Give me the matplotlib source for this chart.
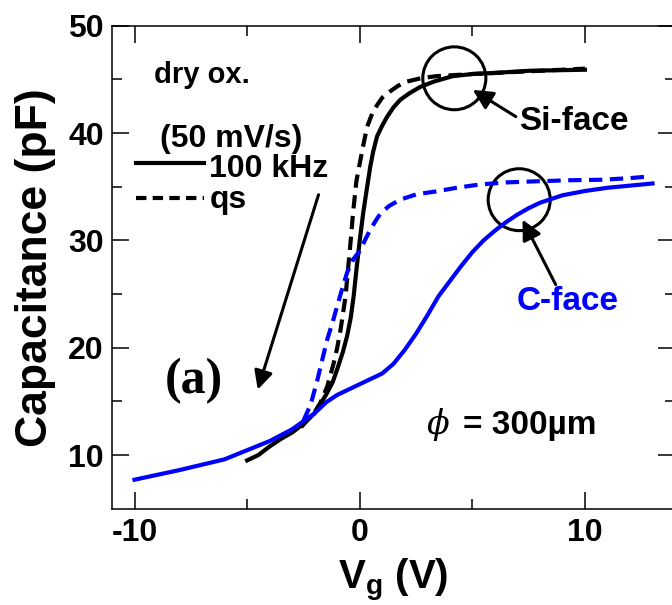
import numpy as np
import matplotlib.pyplot as plt
from matplotlib.patches import Ellipse

plt.rcParams['font.family'] = ['Liberation Sans', 'DejaVu Sans']
plt.rcParams['font.weight'] = 'bold'
plt.rcParams['axes.labelweight'] = 'bold'
plt.rcParams['axes.unicode_minus'] = False
plt.rcParams['mathtext.fontset'] = 'custom'
plt.rcParams['mathtext.bf'] = 'Liberation Sans:bold'
plt.rcParams['mathtext.rm'] = 'Liberation Sans:bold'

# C-V curves, gate voltage (V) vs capacitance (pF)
si_hf_v = [-5.0, -4.5, -4.0, -3.5, -3.0, -2.5, -2.0, -1.5, -1.2, -1.0,
           -0.75, -0.56, -0.4, -0.27, -0.15, 0.0, 0.15, 0.3, 0.47, 0.6,
           0.77, 1.0, 1.21, 1.5, 1.8, 2.2, 2.69, 3.3, 4.13, 5.0,
           6.0, 7.5, 10.0]
si_hf_c = [9.5, 10.0, 10.8, 11.5, 12.1, 12.9, 13.9, 15.6, 16.8, 18.0,
           19.6, 21.1, 22.8, 24.8, 27.2, 30.0, 32.5, 34.6, 36.9, 38.3,
           39.7, 40.7, 41.5, 42.4, 43.1, 43.7, 44.3, 44.8, 45.3, 45.5,
           45.6, 45.8, 45.9]

si_qs_v = [-2.6, -2.0, -1.74, -1.44, -1.15, -1.0, -0.85, -0.63, -0.49, -0.41,
           -0.3, -0.15, 0.03, 0.2, 0.33, 0.55, 0.77, 1.0, 1.36, 1.7,
           2.1, 2.7, 3.4, 5.0, 7.0, 10.0]
si_qs_c = [12.6, 14.0, 14.9, 16.4, 18.6, 20.0, 21.7, 24.8, 28.0, 29.8,
           32.5, 35.5, 37.5, 39.3, 40.6, 41.8, 42.6, 43.3, 43.9, 44.4,
           44.8, 45.1, 45.3, 45.5, 45.7, 46.0]

c_hf_v = [-10.0, -8.0, -6.0, -4.0, -3.0, -2.0, -1.5, -1.0, -0.5, 0.0,
          0.5, 1.0, 1.5, 2.0, 2.5, 3.0, 3.5, 4.0, 4.5, 5.0,
          5.5, 6.0, 6.5, 7.0, 7.5, 8.0, 9.0, 10.0, 11.0, 12.0, 13.0]
c_hf_c = [7.7, 8.6, 9.6, 11.3, 12.4, 13.9, 14.9, 15.6, 16.1, 16.6,
          17.1, 17.6, 18.5, 19.8, 21.3, 23.0, 24.8, 26.2, 27.6, 28.9,
          30.0, 30.9, 31.7, 32.4, 33.0, 33.5, 34.2, 34.6, 34.9, 35.1, 35.3]

c_qs_v = [-2.5, -2.18, -1.88, -1.65, -1.44, -1.2, -1.0, -0.75, -0.56, -0.3,
          0.03, 0.25, 0.47, 0.7, 0.92, 1.3, 1.8, 2.54, 3.39, 4.3,
          5.31, 6.5, 7.82, 9.3, 10.77, 12.0, 12.83]
c_qs_c = [13.2, 14.7, 17.0, 19.0, 20.8, 22.4, 23.9, 25.7, 27.0, 28.2,
          29.1, 30.1, 31.0, 31.8, 32.5, 33.2, 33.8, 34.3, 34.56, 34.9,
          35.2, 35.4, 35.5, 35.6, 35.65, 35.8, 35.95]

blue = '#0000ff'
lw = 3.0
dash = (3.2, 1.8)

fig = plt.figure(figsize=(6.72, 6.05), dpi=100)
ax = fig.add_axes([0.1667, 0.1592, 0.8378, 0.7983])

ax.plot(si_hf_v, si_hf_c, color='black', lw=lw)
ax.plot(si_qs_v, si_qs_c, color='black', lw=lw, dashes=dash)
ax.plot(c_hf_v, c_hf_c, color=blue, lw=lw)
ax.plot(c_qs_v, c_qs_c, color=blue, lw=lw, dashes=dash)

ax.set_xlim(-11, 14)
ax.set_ylim(5, 50)
ax.set_xticks([-10, 0, 10])
ax.set_xticks([-5, 5], minor=True)
ax.set_yticks([10, 20, 30, 40, 50])
ax.set_yticks([15, 25, 35, 45], minor=True)
ax.tick_params(which='both', direction='in', top=True, right=True, width=1.1,
               labelsize=23)
ax.tick_params(which='major', length=12)
ax.tick_params(which='minor', length=7.5)
ax.tick_params(axis='x', pad=7)
ax.tick_params(axis='y', pad=6)
for sp in ax.spines.values():
    sp.set_linewidth(1.1)

ax.set_xlabel(r'$\mathbf{V_g}$ (V)', fontsize=29, labelpad=6)
ax.set_ylabel('Capacitance (pF)', fontsize=32, labelpad=9)

# legend drawn by hand
ax.text(-9.13, 44.64, 'dry ox.', fontsize=21, va='baseline')
ax.text(-8.89, 38.74, '(50 mV/s)', fontsize=23, va='baseline')
ax.plot([-9.92, -6.92], [37.23, 37.23], color='black', lw=3)
ax.text(-6.68, 35.95, '100 kHz', fontsize=23, va='baseline')
ax.plot([-9.92, -6.92], [33.97, 33.97], color='black', lw=3, dashes=(2.5, 1.5))
ax.text(-6.68, 33.04, 'qs', fontsize=23, va='baseline')

ax.annotate('', xy=(-4.53, 16.1), xytext=(-1.83, 34.25),
            arrowprops=dict(arrowstyle='-|>', color='black', lw=2.2,
                            mutation_scale=28, shrinkA=0, shrinkB=0))
ax.text(-7.36, 15.8, '(a)', fontsize=36, family='Liberation Serif',
        ha='center', va='baseline')

# Si-face marker
ax.add_patch(Ellipse((4.2, 45.1), 63 / 22.5, 63 / 10.75, fill=False,
                     lw=2.2, color='black'))
ax.annotate('', xy=(5.02, 44.02), xytext=(6.93, 41.53),
            arrowprops=dict(arrowstyle='-|>', color='black', lw=2.2,
                            mutation_scale=30, shrinkA=0, shrinkB=0))
ax.text(7.08, 40.3, 'Si-face', fontsize=24, va='baseline')

# C-face marker
ax.add_patch(Ellipse((7.08, 33.79), 62 / 22.5, 62 / 10.75, fill=False,
                     lw=2.2, color='black'))
ax.annotate('', xy=(7.23, 31.93), xytext=(8.7, 25.88),
            arrowprops=dict(arrowstyle='-|>', color='black', lw=2.2,
                            mutation_scale=30, shrinkA=0, shrinkB=0))
ax.text(6.96, 23.55, 'C-face', fontsize=24, color=blue, va='baseline')

ax.text(2.95, 11.93, '\u03d5', fontsize=24, family='DejaVu Serif',
        style='italic', fontweight='normal', va='baseline')
ax.text(4.59, 11.93, '= 300\u00b5m', fontsize=24, va='baseline')

fig.savefig('out.png', dpi=100)
